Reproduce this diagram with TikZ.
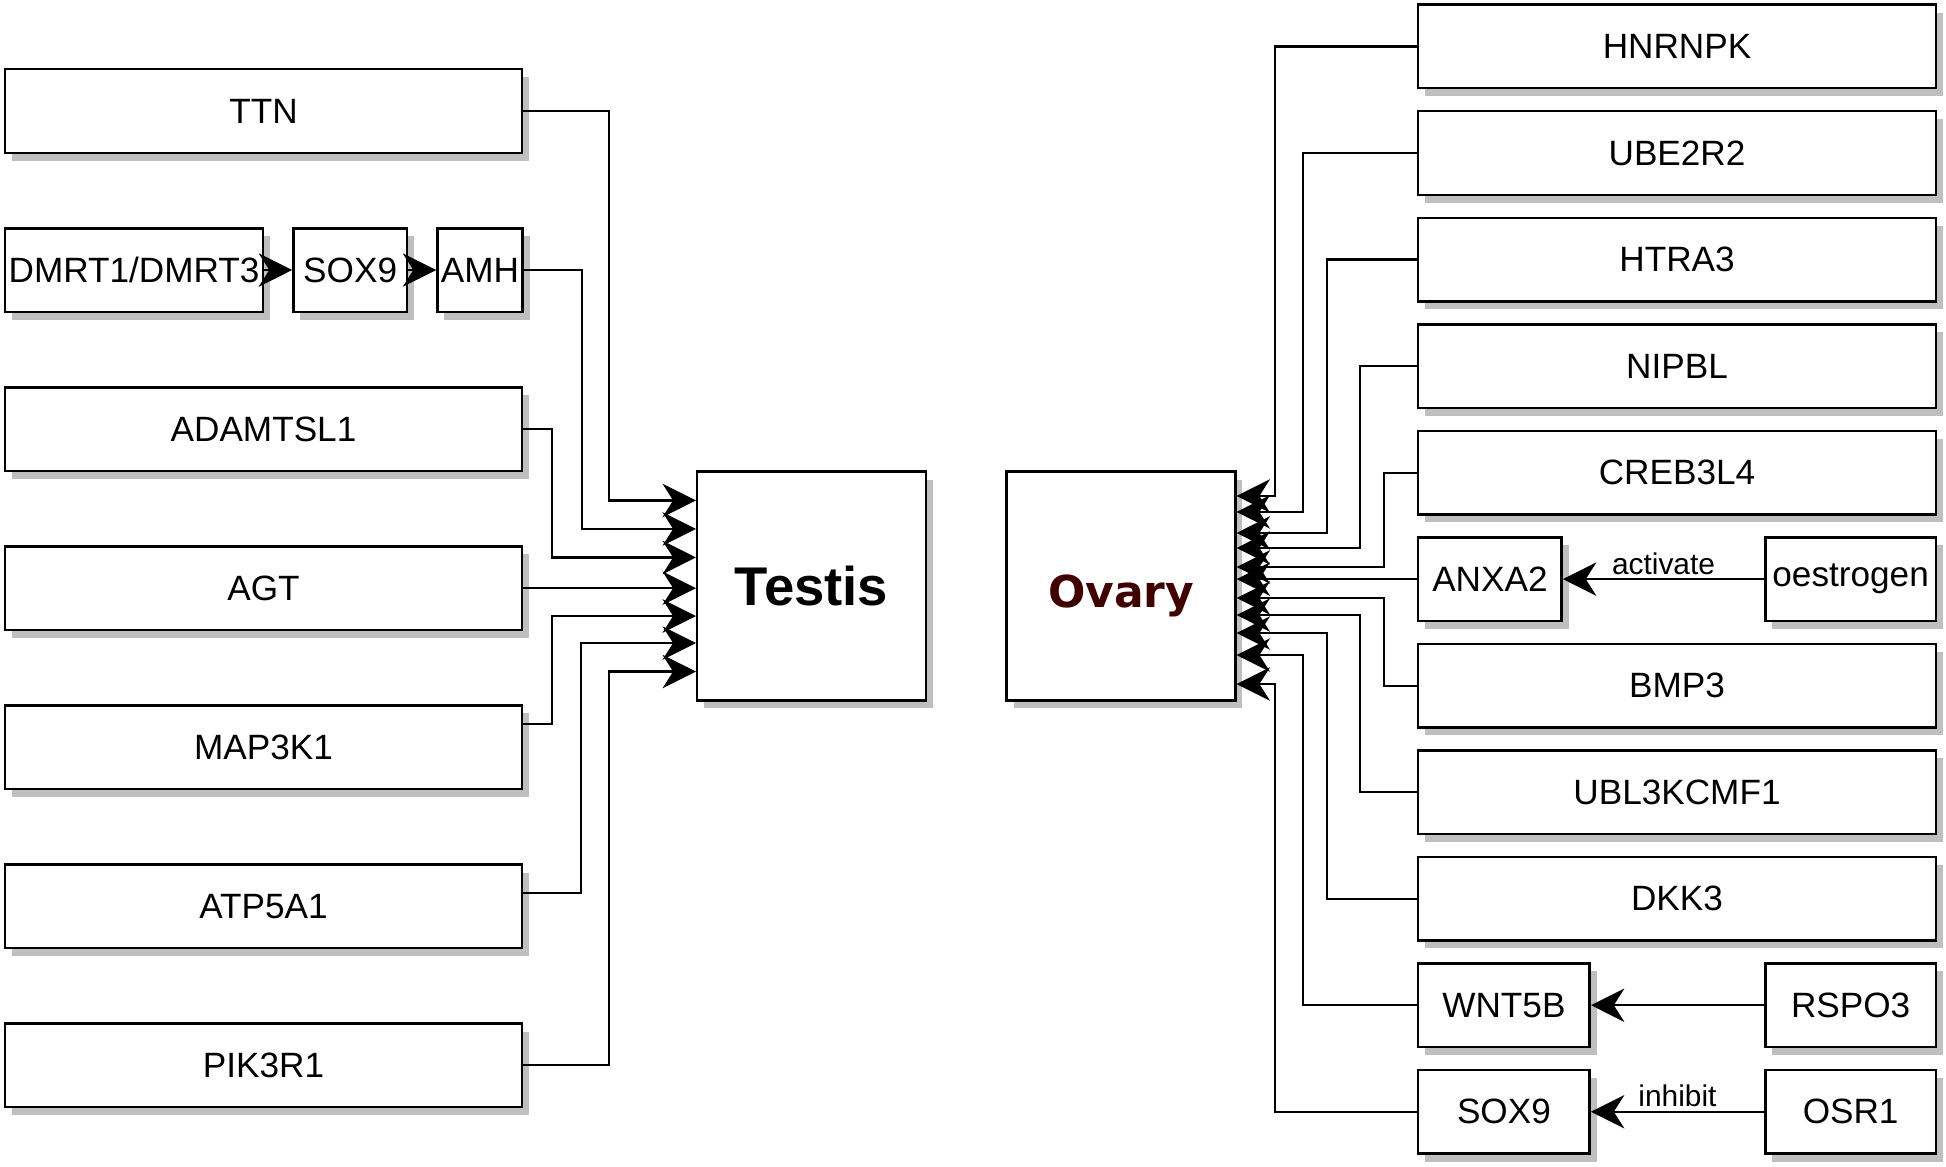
\documentclass[tikz,border=0pt]{standalone}
\usepackage{fontspec}
\setsansfont{Liberation Sans}
\newfontfamily\ovaryfont{DejaVu Sans}
\usetikzlibrary{positioning,shadows,arrows.meta}
\definecolor{ovarycol}{RGB}{64,0,0}
\tikzset{gene/.style={draw,line width=0.7pt,fill=white,minimum height=0.835cm,inner sep=1pt,
                      drop shadow={shadow xshift=0.07cm,shadow yshift=-0.08cm,fill=black!25,opacity=1}},
         organ/.style={gene,minimum width=2.285cm,minimum height=2.285cm},
         link/.style={line width=0.6pt,-{Stealth[length=9.5pt,width=9.5pt,inset=3pt]}},
         tag/.style={font=\sffamily\fontsize{8.5}{10}\selectfont,inner sep=1pt}}

\begin{document}
\begin{tikzpicture}[x=0.01cm,y=-0.01cm,font=\sffamily]
\useasboundingbox (0,0) rectangle (1946,1167);

% testis side
\node[gene,minimum width=5.165cm] (ttn) at (263.5,111) {TTN};
\node[gene,minimum width=2.575cm,below right=0.73cm and 0cm of ttn.south west] (dmrt) {DMRT1/DMRT3};
\node[gene,minimum width=1.135cm,right=0.28cm of dmrt] (soxa) {SOX9};
\node[gene,minimum width=0.845cm,right=0.28cm of soxa] (amh) {AMH};
\node[gene,minimum width=5.165cm,below right=0.73cm and 0cm of dmrt.south west] (adam) {ADAMTSL1};
\node[gene,minimum width=5.165cm,below=0.73cm of adam] (agt) {AGT};
\node[gene,minimum width=5.165cm,below=0.73cm of agt] (map) {MAP3K1};
\node[gene,minimum width=5.165cm,below=0.73cm of map] (atp) {ATP5A1};
\node[gene,minimum width=5.165cm,below=0.73cm of atp] (pik) {PIK3R1};

\node[organ,font=\sffamily\bfseries\fontsize{15.5}{18}\selectfont] (testis) at (811.5,586) {Testis};
\node[organ,text=ovarycol,font=\ovaryfont\bfseries\fontsize{12.5}{15}\selectfont,
      text height=0.52cm] (ovary) at (1121,586) {Ovary};

% ovary side
\node[gene,minimum width=5.175cm] (hnrnpk) at (1677,46.5) {HNRNPK};
\node[gene,minimum width=5.175cm,below=0.205cm of hnrnpk] (ube) {UBE2R2};
\node[gene,minimum width=5.175cm,below=0.205cm of ube] (htra) {HTRA3};
\node[gene,minimum width=5.175cm,below=0.205cm of htra] (nipbl) {NIPBL};
\node[gene,minimum width=5.175cm,below=0.205cm of nipbl] (creb) {CREB3L4};
\node[gene,minimum width=1.435cm,below right=0.205cm and 0cm of creb.south west] (anxa) {ANXA2};
\node[gene,minimum width=1.705cm,below left=0.205cm and 0cm of creb.south east] (oest) {oestrogen};
\node[gene,minimum width=5.175cm,below right=0.205cm and 0cm of anxa.south west] (bmp) {BMP3};
\node[gene,minimum width=5.175cm,below=0.205cm of bmp] (ubl) {UBL3KCMF1};
\node[gene,minimum width=5.175cm,below=0.205cm of ubl] (dkk) {DKK3};
\node[gene,minimum width=1.715cm,below right=0.205cm and 0cm of dkk.south west] (wnt) {WNT5B};
\node[gene,minimum width=1.705cm,below left=0.205cm and 0cm of dkk.south east] (rspo) {RSPO3};
\node[gene,minimum width=1.715cm,below right=0.205cm and 0cm of wnt.south west] (soxb) {SOX9};
\node[gene,minimum width=1.705cm,below left=0.205cm and 0cm of rspo.south east] (osr) {OSR1};

\draw[link] (dmrt) -- (soxa);
\draw[link] (soxa) -- (amh);
\draw[link] (oest) -- (anxa) node[tag,midway,above] {activate};
\draw[link] (rspo) -- (wnt);
\draw[link] (osr) -- (soxb) node[tag,midway,above] {inhibit};

\draw[link] (ttn.east) -- ++(86,0) |- ([yshift=0.855cm]testis.west);
\draw[link] (amh.east) -- ++(58,0) |- ([yshift=0.57cm]testis.west);
\draw[link] (adam.east) -- ++(29,0) |- ([yshift=0.285cm]testis.west);
\draw[link] (agt.east) -- (agt.east -| testis.west);
\draw[link] ([yshift=0.23cm]map.east) -- ++(29,0) |- ([yshift=-0.3cm]testis.west);
\draw[link] ([yshift=0.13cm]atp.east) -- ++(58,0) |- ([yshift=-0.57cm]testis.west);
\draw[link] (pik.east) -- ++(86,0) |- ([yshift=-0.855cm]testis.west);

\draw[link] (hnrnpk.west) -- ++(-142,0) |- ([yshift=0.90cm]ovary.east);
\draw[link] (ube.west) -- ++(-114,0) |- ([yshift=0.74cm]ovary.east);
\draw[link] (htra.west) -- ++(-90,0) |- ([yshift=0.53cm]ovary.east);
\draw[link] (nipbl.west) -- ++(-57,0) |- ([yshift=0.38cm]ovary.east);
\draw[link] (creb.west) -- ++(-33,0) |- ([yshift=0.19cm]ovary.east);
\draw[link] (anxa.west) -- (anxa.west -| ovary.east);
\draw[link] (bmp.west) -- ++(-33,0) |- ([yshift=-0.12cm]ovary.east);
\draw[link] (ubl.west) -- ++(-57,0) |- ([yshift=-0.29cm]ovary.east);
\draw[link] (dkk.west) -- ++(-90,0) |- ([yshift=-0.47cm]ovary.east);
\draw[link] (wnt.west) -- ++(-114,0) |- ([yshift=-0.69cm]ovary.east);
\draw[link] (soxb.west) -- ++(-142,0) |- ([yshift=-0.98cm]ovary.east);

\end{tikzpicture}
\end{document}
